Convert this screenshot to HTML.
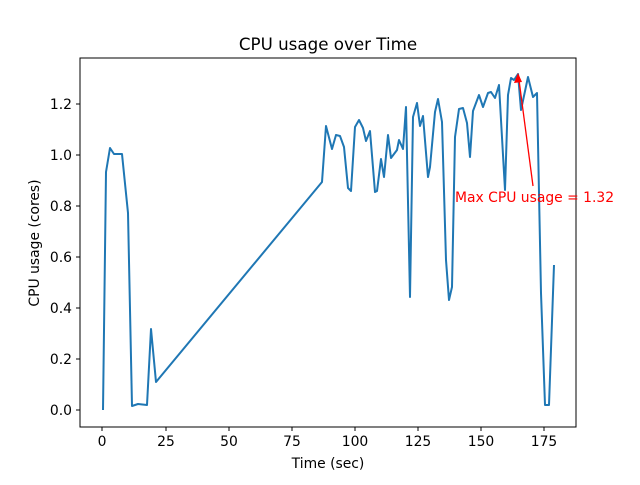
<!DOCTYPE html>
<html><head><meta charset="utf-8"><style>
html,body{margin:0;padding:0;background:#fff;}
svg text{font-family:"DejaVu Sans","Liberation Sans",sans-serif;}
</style></head><body>
<svg width="640" height="480" xmlns="http://www.w3.org/2000/svg">
<rect width="640" height="480" fill="#fff"/>
<polyline fill="none" stroke="#1f77b4" stroke-width="2" stroke-linejoin="round" points="103,410 106,172 110,148 114,154 122,154 128,213 132,406 138,404 147,405 151,329 156,382 322,182 326,126 332,149 336,135 340,136 344,147 348,188 351,191 355,127 359,120 363,128 366,141 370,131 375,192 377,191 381,159 384,177 388,135 391,158 397,150 399,140 403,149 406,107 410,297 413,117 417,103 420,126 423,116 428,177 430,167 435,112 438,99 442,122 446,260 449,300 452,287 455,137 459,109 463,108 467,123 470,157 473,111 479,95 483,107 488,93 491,92 495,98 499,85 501,120 505,190 508,95 511,78 514,80 518,74 521,110 528,77 533,97 537,93 541,293 545,405 549,405 554,265"/>
<rect x="80" y="58" width="496" height="369" fill="none" stroke="#000" stroke-width="1"/>
<g stroke="#000" stroke-width="1">
<line x1="102" y1="427" x2="102" y2="431"/><line x1="166" y1="427" x2="166" y2="431"/><line x1="229" y1="427" x2="229" y2="431"/><line x1="292" y1="427" x2="292" y2="431"/><line x1="355" y1="427" x2="355" y2="431"/><line x1="418" y1="427" x2="418" y2="431"/><line x1="481" y1="427" x2="481" y2="431"/><line x1="544" y1="427" x2="544" y2="431"/>
<line x1="76" y1="410" x2="80" y2="410"/><line x1="76" y1="359" x2="80" y2="359"/><line x1="76" y1="308" x2="80" y2="308"/><line x1="76" y1="257" x2="80" y2="257"/><line x1="76" y1="206" x2="80" y2="206"/><line x1="76" y1="155" x2="80" y2="155"/><line x1="76" y1="104" x2="80" y2="104"/>
</g>
<g font-size="13.9" fill="#000" text-anchor="middle">
<text x="102" y="446">0</text><text x="166" y="446">25</text><text x="229" y="446">50</text><text x="292" y="446">75</text><text x="355" y="446">100</text><text x="418" y="446">125</text><text x="481" y="446">150</text><text x="544" y="446">175</text>
</g>
<g font-size="13.9" fill="#000" text-anchor="end">
<text x="72" y="415">0.0</text><text x="72" y="364">0.2</text><text x="72" y="313">0.4</text><text x="72" y="262">0.6</text><text x="72" y="211">0.8</text><text x="72" y="160">1.0</text><text x="72" y="109">1.2</text>
</g>
<text x="328" y="468" font-size="13.9" text-anchor="middle">Time (sec)</text>
<text x="39" y="243" font-size="13.9" text-anchor="middle" transform="rotate(-90 39 243)">CPU usage (cores)</text>
<text x="328" y="50" font-size="16.7" text-anchor="middle">CPU usage over Time</text>
<line x1="533" y1="186" x2="519" y2="80" stroke="red" stroke-width="1.3"/>
<polygon points="518,73 514,83 522,82" fill="red"/>
<text x="455" y="202" font-size="13.9" fill="red">Max CPU usage = 1.32</text>
</svg>
</body></html>
